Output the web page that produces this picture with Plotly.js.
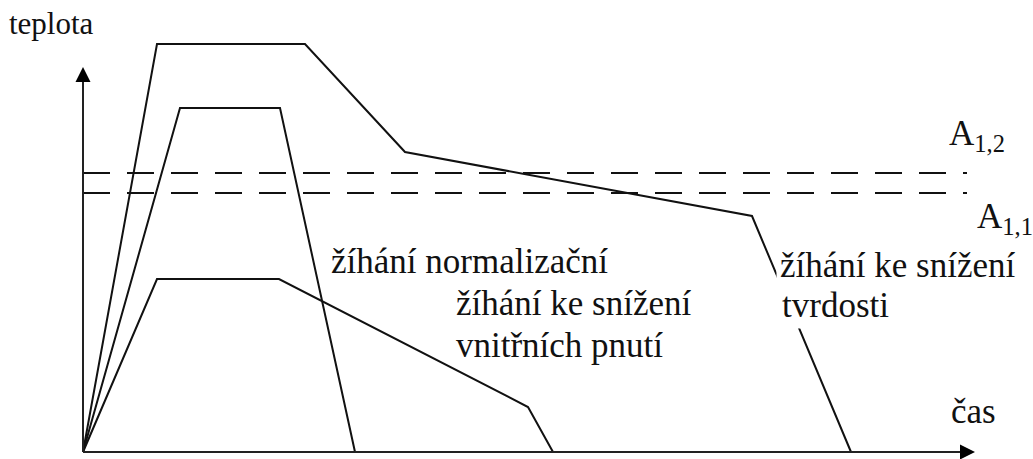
<!DOCTYPE html>
<html>
<head>
<meta charset="utf-8">
<script src="https://cdn.plot.ly/plotly-3.0.1.min.js"></script>
<style>html,body{margin:0;padding:0;background:#fff}#chart{width:1033px;height:459px}</style>
</head>
<body>
<div id="chart"></div>
<script>
// time / temperature in arbitrary units (origin at the axes' corner)
const timeTvrdost = [0, 74, 222, 322, 669, 768];
const tempTvrdost = [0, 408, 408, 300, 236, 0];

const timeNormal = [0, 97, 197, 272];
const tempNormal = [0, 344, 344, 0];

const timePnuti = [0, 74, 196, 445, 470];
const tempPnuti = [0, 173, 173, 45, 0];

const critNames = ["A<sub>1,2</sub>", "A<sub>1,1</sub>"];
const critTemps = [279, 259];
const critEnd = 884;

const axisXEnd = 892;
const axisYEnd = 385;

const labels = {
  yTitle: "teplota",
  xTitle: "čas",
  tvrdost: ["žíhání ke snížení", "tvrdosti"],
  normal: ["žíhání normalizační"],
  pnuti: ["žíhání ke snížení", "vnitřních pnutí"]
};

const lineStyle = {color: "#111", width: 2};
const axisStyle = {color: "#222", width: 2};
const traces = [
  {x: timeTvrdost, y: tempTvrdost, mode: "lines", line: lineStyle, hoverinfo: "skip"},
  {x: timeNormal, y: tempNormal, mode: "lines", line: lineStyle, hoverinfo: "skip"},
  {x: timePnuti, y: tempPnuti, mode: "lines", line: lineStyle, hoverinfo: "skip"}
];
critTemps.forEach(t => traces.push({
  x: [0, critEnd], y: [t, t], mode: "lines",
  line: {color: "#111", width: 2, dash: "27px,17px"}, hoverinfo: "skip"
}));
// axes with arrow heads
traces.push({x: [0, axisXEnd - 12], y: [0, 0], mode: "lines", line: axisStyle, hoverinfo: "skip"});
traces.push({x: [0, 0], y: [0, axisYEnd - 12], mode: "lines", line: axisStyle, hoverinfo: "skip"});
traces.push({x: [axisXEnd], y: [0], mode: "markers", hoverinfo: "skip",
  marker: {symbol: "arrow-right", size: 15, color: "#000", line: {width: 0}}});
traces.push({x: [0], y: [axisYEnd], mode: "markers", hoverinfo: "skip",
  marker: {symbol: "arrow-up", size: 15, color: "#000", line: {width: 0}}});

const font = {family: "Liberation Serif, Times New Roman, serif", size: 35, color: "#111"};
function txt(text, x, y, extra) {
  return Object.assign({text: text, x: x, y: y, xref: "x", yref: "y", xanchor: "left", yanchor: "middle",
    showarrow: false, font: font, borderpad: 0}, extra || {});
}

const annotations = [
  txt(labels.yTitle, -75, 428.5, {font: Object.assign({}, font, {size: 31})}),
  txt(labels.xTitle, 867, 40.5),
  txt(critNames[0], 865, 316.5),
  txt(critNames[1], 893, 233.5),
  txt(labels.tvrdost[0], 693, 186.5, {bgcolor: "#fff", borderpad: 3}),
  txt(labels.tvrdost[1], 695, 146.5, {bgcolor: "#fff", borderpad: 3}),
  txt(labels.normal[0], 247, 190.5),
  txt(labels.pnuti[0], 372, 148.5),
  txt(labels.pnuti[1], 372, 106.5)
];

const layout = {
  width: 1033, height: 459,
  margin: {l: 0, r: 0, t: 0, b: 0},
  paper_bgcolor: "#fff", plot_bgcolor: "#fff",
  font: {family: "Liberation Serif, Times New Roman, serif"},
  showlegend: false,
  xaxis: {range: [-83, 950], visible: false, fixedrange: true},
  yaxis: {range: [-7, 452], visible: false, fixedrange: true},
  annotations: annotations
};

Plotly.newPlot("chart", traces, layout, {displayModeBar: false, staticPlot: true});
</script>
</body>
</html>
